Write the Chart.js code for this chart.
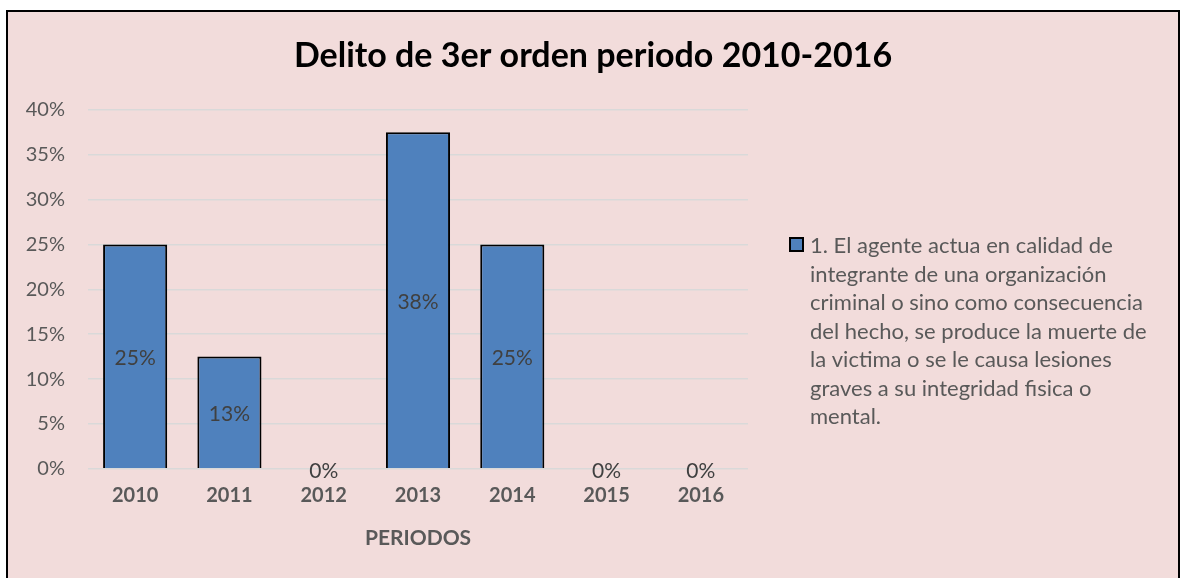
<!DOCTYPE html>
<html>
<head>
<meta charset="utf-8">
<script src="https://cdn.jsdelivr.net/npm/chart.js@4.4.1/dist/chart.umd.min.js"></script>
<style>
  html, body { margin: 0; padding: 0; background: #ffffff; }
  #marco {
    position: absolute; left: 6px; top: 10px;
    width: 1170px; height: 580px;
    border: 2px solid #000000; background: #F2DCDB;
  }
  #grafico { display: block; }
</style>
</head>
<body>
<div id="marco"><canvas id="grafico" width="1170" height="566"></canvas></div>
<script>
// Datos del gráfico
const periodos = ['2010', '2011', '2012', '2013', '2014', '2015', '2016'];
const porcentajes = [25, 12.5, 0, 37.5, 25, 0, 0];
const etiquetaSerie = '1. El agente actua en calidad de integrante de una organización criminal o sino como consecuencia del hecho, se produce la muerte de la victima o se le causa lesiones graves a su integridad fisica o mental.';
const lineasLeyenda = [
  '1. El agente actua en calidad de',
  'integrante de una organización',
  'criminal o sino como consecuencia',
  'del hecho, se produce la muerte de',
  'la victima o se le causa lesiones',
  'graves a su integridad fisica o',
  'mental.'
];

const FUENTE = 'Lato, Calibri, "Open Sans", sans-serif';
const AZUL = '#4F81BD';

// Etiquetas de datos dentro de cada barra
const etiquetasDatos = {
  id: 'etiquetasDatos',
  afterDatasetsDraw(chart) {
    const ctx = chart.ctx;
    const meta = chart.getDatasetMeta(0);
    ctx.save();
    ctx.font = '21px ' + FUENTE;
    ctx.fillStyle = '#404040';
    ctx.textAlign = 'center';
    ctx.textBaseline = 'middle';
    meta.data.forEach((barra, i) => {
      const v = chart.data.datasets[0].data[i];
      const y = (barra.y + barra.base) / 2;
      ctx.fillText(Math.round(v) + '%', barra.x, y + 2);
    });
    ctx.restore();
  }
};

// Leyenda a la derecha con texto en varias líneas
const leyendaDerecha = {
  id: 'leyendaDerecha',
  afterDraw(chart) {
    const ctx = chart.ctx;
    const x0 = chart.chartArea.right + 42;
    const y0 = 226;
    ctx.save();
    ctx.fillStyle = AZUL;
    ctx.fillRect(x0, y0, 13, 13);
    ctx.strokeStyle = '#000000';
    ctx.lineWidth = 2;
    ctx.strokeRect(x0, y0, 13, 13);
    ctx.font = '22px ' + FUENTE;
    ctx.fillStyle = '#595959';
    ctx.textAlign = 'left';
    ctx.textBaseline = 'middle';
    lineasLeyenda.forEach((t, i) => {
      ctx.fillText(t, x0 + 20, y0 + 8 + i * 28.5);
    });
    ctx.restore();
  }
};

new Chart(document.getElementById('grafico'), {
  type: 'bar',
  data: {
    labels: periodos,
    datasets: [{
      label: etiquetaSerie,
      data: porcentajes,
      backgroundColor: AZUL,
      borderColor: '#000000',
      borderWidth: 2,
      categoryPercentage: 1.0,
      barPercentage: 0.68
    }]
  },
  options: {
    responsive: false,
    animation: false,
    layout: { padding: { left: 0, right: 0, top: 0, bottom: 23 } },
    plugins: {
      legend: { display: false },
      tooltip: { enabled: false },
      title: {
        display: true,
        text: 'Delito de 3er orden periodo 2010-2016',
        color: '#000000',
        font: { family: FUENTE, size: 34, weight: 'bold', lineHeight: 1.2 },
        padding: { top: 24, bottom: 33 }
      }
    },
    scales: {
      x: {
        grid: { display: false, drawTicks: false },
        border: { display: false },
        ticks: {
          color: '#595959',
          padding: 15,
          font: { family: FUENTE, size: 20, weight: 'bold' }
        },
        title: {
          display: true,
          text: 'PERIODOS',
          color: '#595959',
          font: { family: FUENTE, size: 21, weight: 'bold' },
          padding: { top: 3, bottom: 4 }
        }
      },
      y: {
        min: 0,
        max: 40,
        afterFit(scale) { scale.width = 80; },
        grid: { color: '#D9D9D9', lineWidth: 1.5, drawTicks: false },
        border: { display: false },
        ticks: {
          stepSize: 5,
          padding: 23,
          color: '#595959',
          font: { family: FUENTE, size: 20 },
          callback: v => v + '%'
        }
      },
      // espacio reservado para la leyenda de la derecha
      espacioLeyenda: {
        type: 'linear',
        position: 'right',
        afterFit(scale) { scale.width = 430; },
        grid: { display: false },
        border: { display: false },
        ticks: { display: false }
      }
    }
  },
  plugins: [etiquetasDatos, leyendaDerecha]
});
</script>
</body>
</html>
